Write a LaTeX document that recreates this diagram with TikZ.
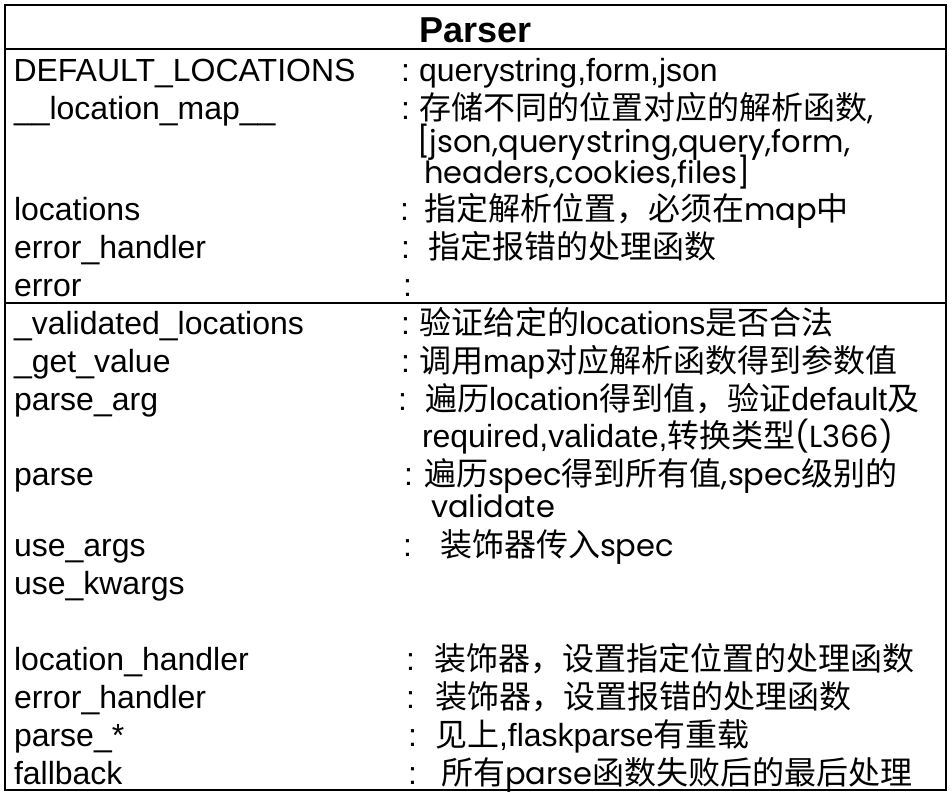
\documentclass[tikz,border=0pt]{standalone}
\usepackage{fontspec}
\setmainfont{Liberation Sans}
\newfontfamily\cjk{Noto Sans CJK SC}
\newfontfamily\geofam{Poppins}
\newcommand{\fsz}{\fontsize{32}{32}\selectfont}
\newcommand{\geo}{\geofam\fontsize{30.5}{32}\selectfont}
\begin{document}
\begin{tikzpicture}[x=1pt,y=-1pt,
  lbl/.style={anchor=base west, inner sep=0pt, outer sep=0pt, font=\fsz},
  colon/.style={anchor=base west, inner sep=0pt, outer sep=0pt, font=\fsz},
  desc/.style={anchor=base west, inner sep=0pt, outer sep=0pt, font=\fsz},
  titletext/.style={anchor=base, inner sep=0pt, outer sep=0pt, font=\fontsize{36}{36}\selectfont\bfseries},
  frame/.style={draw=black, line width=2.4pt}]
\useasboundingbox (0,0) rectangle (952,796);
% frame and compartments
\draw[frame] (5,5) rectangle (946,790);
\coordinate (s1l) at (5,49);  \coordinate (s1r) at (946,49);
\coordinate (s2l) at (5,303); \coordinate (s2r) at (946,303);
\draw[frame] (s1l) -- (s1r);
\draw[frame] (s2l) -- (s2r);
% title
\node[titletext] (title) at (475.5,42) {Parser};
% attributes
\node[lbl] (n1) at (13.5,81) {DEFAULT\_LOCATIONS};
\node[colon] (c1) at (401,81) {:};
\node[desc] (d1) at (419,81) {querystring,form,json};

\node[lbl] (n2) at (14,119) {\_\_location\_map\_\_};
\node[colon] (c2) at (401,119) {:};
\node[desc] (d2) at (419,119) {{\cjk 存储不同的位置对应的解析函数}{\geo ,}};
\node[desc] (d2b) at (417,152) {\geo [json,querystring,query,form,};
\node[desc] (d2c) at (424,183) {\geo headers,cookies,files]};

\node[lbl] (n3) at (14,220) {locations};
\node[colon] (c3) at (400,220) {:};
\node[desc] (d3) at (424,220) {{\cjk 指定解析位置，必须在}{\geo map}{\cjk 中}};

\node[lbl] (n4) at (14,258) {error\_handler};
\node[colon] (c4) at (401,258) {:};
\node[desc] (d4) at (428,258) {\cjk 指定报错的处理函数};

\node[lbl] (n5) at (14,296) {error};
\node[colon] (c5) at (403,296) {:};

% methods
\node[lbl] (m1) at (14,334) {\_validated\_locations};
\node[colon] (k1) at (401,334) {:};
\node[desc] (e1) at (419,334) {{\cjk 验证给定的}locations{\cjk 是否合法}};

\node[lbl] (m2) at (14,372) {\_get\_value};
\node[colon] (k2) at (401,372) {:};
\node[desc] (e2) at (419,372) {{\cjk 调用}map{\cjk 对应解析函数得到参数值}};

\node[lbl] (m3) at (14,410) {parse\_arg};
\node[colon] (k3) at (398,410) {:};
\node[desc] (e3) at (425,410) {{\cjk 遍历}location{\cjk 得到值，验证}default{\cjk 及}};
\node[desc] (e3b) at (422,447) {required,validate,{\cjk 转换类型}{\geo (L366)}};

\node[lbl] (m4) at (14,485) {parse};
\node[colon] (k4) at (404,485) {:};
\node[desc] (e4) at (424,485) {{\cjk 遍历}{\geo spec}{\cjk 得到所有值}{\geo ,spec}{\cjk 级别的}};
\node[desc] (e4b) at (431,517) {\geo validate};

\node[lbl] (m5) at (14,556) {use\_args};
\node[colon] (k5) at (403,556) {:};
\node[desc] (e5) at (440,556) {{\cjk 装饰器传入}{\geo spec}};

\node[lbl] (m6) at (14,594) {use\_kwargs};

\node[lbl] (m7) at (14,670) {location\_handler};
\node[colon] (k7) at (406,670) {:};
\node[desc] (e7) at (434,670) {\cjk 装饰器，设置指定位置的处理函数};

\node[lbl] (m8) at (14,708) {error\_handler};
\node[colon] (k8) at (406,708) {:};
\node[desc] (e8) at (435,708) {\cjk 装饰器，设置报错的处理函数};

\node[lbl] (m9) at (14,746) {parse\_*};
\node[colon] (k9) at (408,746) {:};
\node[desc] (e9) at (435,746) {{\cjk 见上},flaskparse{\cjk 有重载}};

\node[lbl] (m10) at (14,784) {fallback};
\node[colon] (k10) at (408,784) {:};
\node[desc] (e10) at (441,784) {{\cjk 所有}{\geo parse}{\cjk 函数失败后的最后处理}};
\end{tikzpicture}
\end{document}
